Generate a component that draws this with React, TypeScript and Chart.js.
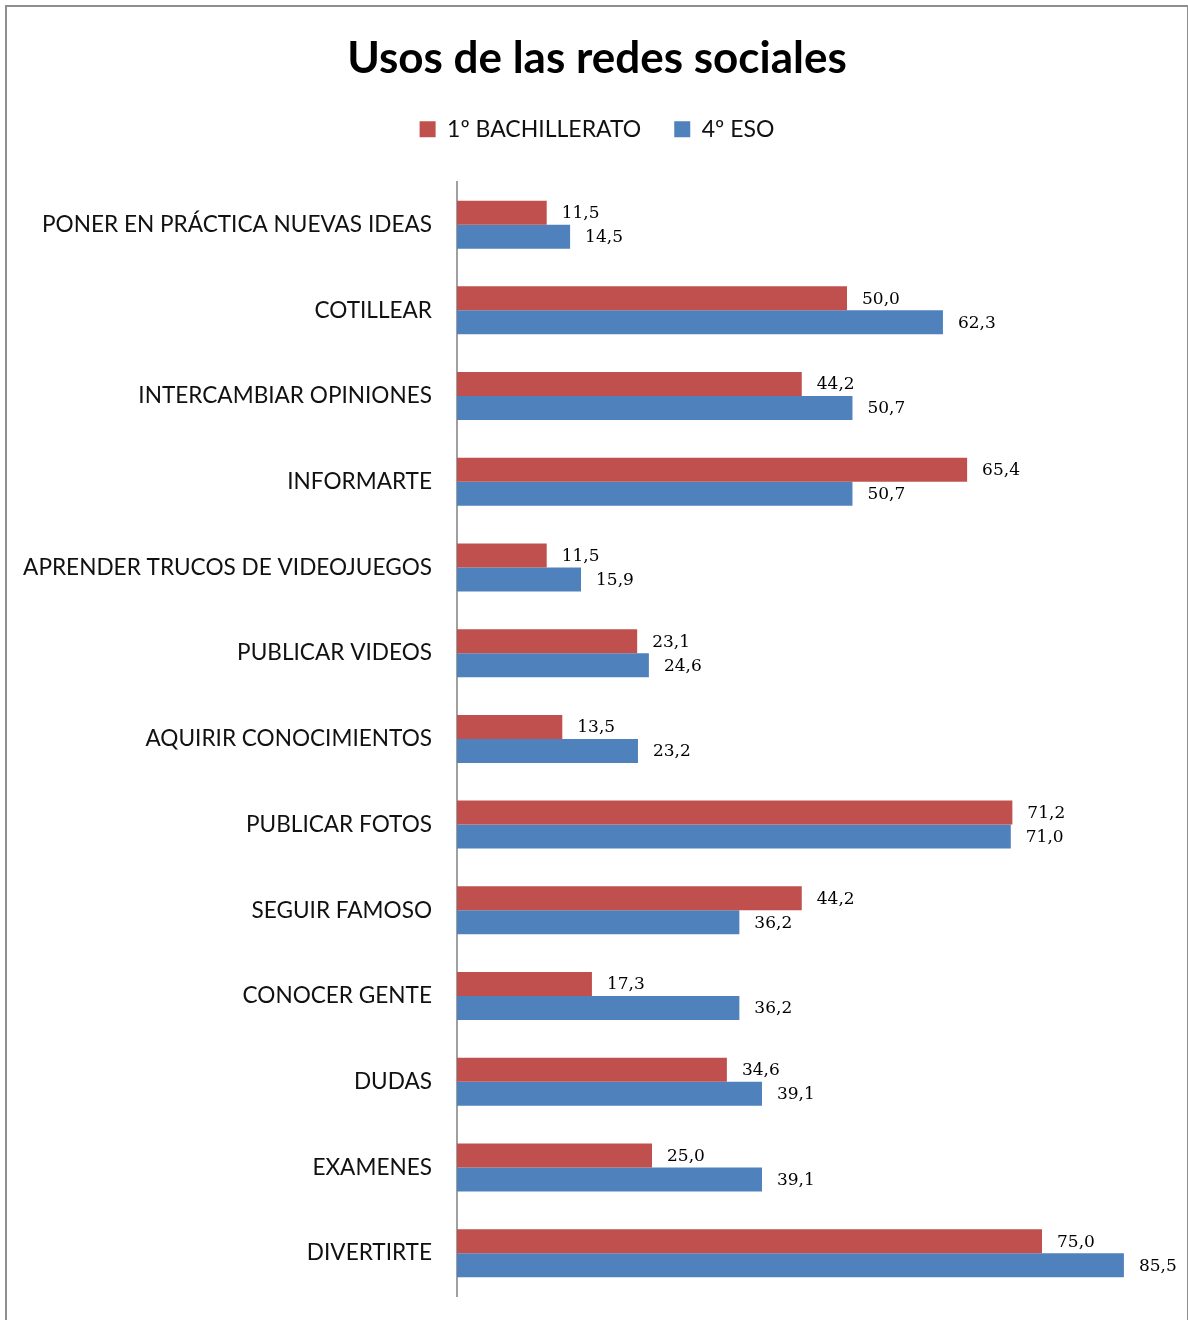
import React, { useEffect, useRef } from "react";
import { Chart, registerables } from "chart.js";

Chart.register(...registerables);

const categories = [
  "PONER EN PRÁCTICA NUEVAS IDEAS",
  "COTILLEAR",
  "INTERCAMBIAR OPINIONES",
  "INFORMARTE",
  "APRENDER TRUCOS DE VIDEOJUEGOS",
  "PUBLICAR VIDEOS",
  "AQUIRIR CONOCIMIENTOS",
  "PUBLICAR FOTOS",
  "SEGUIR FAMOSO",
  "CONOCER GENTE",
  "DUDAS",
  "EXAMENES",
  "DIVERTIRTE",
];

const bachillerato = [11.5, 50.0, 44.2, 65.4, 11.5, 23.1, 13.5, 71.2, 44.2, 17.3, 34.6, 25.0, 75.0];
const eso = [14.5, 62.3, 50.7, 50.7, 15.9, 24.6, 23.2, 71.0, 36.2, 36.2, 39.1, 39.1, 85.5];

const seriesNames = ["1º BACHILLERATO", "4º ESO"];
const titleText = "Usos de las redes sociales";

const valueLabels = {
  id: "valueLabels",
  afterDatasetsDraw(chart: any) {
    const ctx = chart.ctx;
    ctx.save();
    ctx.font = "17px 'DejaVu Serif'";
    ctx.fillStyle = "#000";
    ctx.textAlign = "left";
    ctx.textBaseline = "middle";
    chart.data.datasets.forEach((ds: any, i: number) => {
      const meta = chart.getDatasetMeta(i);
      meta.data.forEach((el: any, j: number) => {
        const v = ds.data[j] as number;
        ctx.fillText(v.toFixed(1).replace(".", ","), el.x + 15, el.y + 1);
      });
    });
    ctx.restore();
  },
};

export default function App() {
  const ref = useRef<HTMLCanvasElement>(null);
  useEffect(() => {
    if (!ref.current) return;
    const chart = new Chart(ref.current, {
      type: "bar",
      data: {
        labels: categories,
        datasets: [
          {
            label: seriesNames[0],
            data: bachillerato,
            backgroundColor: "#C0504D",
            borderWidth: 0,
            categoryPercentage: 0.56,
            barPercentage: 1,
            yAxisID: "y",
          },
          {
            label: seriesNames[1],
            data: eso,
            backgroundColor: "#4F81BD",
            borderWidth: 0,
            categoryPercentage: 0.56,
            barPercentage: 1,
            yAxisID: "y",
          },
        ],
      },
      options: {
        indexAxis: "y",
        responsive: false,
        animation: false,
        layout: { padding: { left: 6, right: 0, top: 0, bottom: 24 } },
        plugins: {
          title: {
            display: true,
            text: titleText,
            color: "#000",
            font: { family: "Lato", size: 44, weight: "bold", lineHeight: 1.2 },
            padding: { top: 32, bottom: 0 },
          },
          subtitle: {
            display: true,
            text: "",
            weight: 500,
            font: { size: 10, lineHeight: 1 },
            padding: { top: 21, bottom: 0 },
          } as any,
          legend: {
            display: true,
            position: "top",
            labels: {
              color: "#111",
              font: { family: "Lato", size: 23 },
              boxWidth: 16,
              boxHeight: 16,
              padding: 33,
            },
          },
          tooltip: { enabled: false },
        },
        scales: {
          x: {
            display: false,
            min: 0,
            max: 90,
          },
          y: {
            position: "left",
            grid: {
              display: true,
              drawOnChartArea: false,
              drawTicks: true,
              tickLength: 22,
              color: "rgba(0,0,0,0)",
            },
            border: { display: true, color: "#a0a0a0", width: 2 },
            ticks: {
              color: "#111",
              font: { family: "Lato", size: 22.6 },
              padding: 3,
            },
            afterFit: (scale: any) => {
              scale.width = 451;
            },
          },
          y2: {
            type: "category",
            position: "right",
            display: true,
            grid: { display: false, drawTicks: false },
            border: { display: false },
            ticks: { display: false },
            afterFit: (scale: any) => {
              scale.width = 29;
            },
          },
        },
      },
      plugins: [valueLabels],
    });
    return () => chart.destroy();
  }, []);
  return (
    <div style={{ position: "absolute", left: 0, top: 0, width: 1188, height: 1320, overflow: "hidden", background: "#fff" }}>
      <div
        style={{
          position: "absolute",
          left: 5,
          top: 5,
          width: 1180,
          height: 1340,
          border: "2px solid #8e8e8e",
        }}
      />
      <canvas ref={ref} width={1188} height={1320} style={{ position: "absolute", left: 0, top: 0 }} />
    </div>
  );
}
